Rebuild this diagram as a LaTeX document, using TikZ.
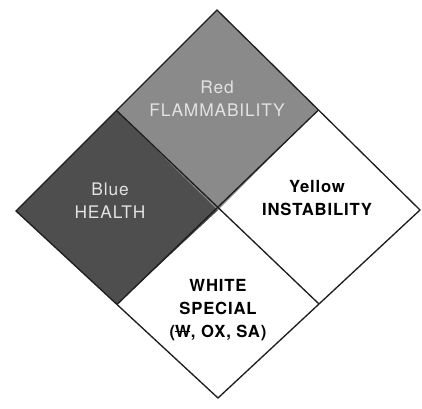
\documentclass[tikz,border=0pt]{standalone}
\usepackage{fontspec}
\setmainfont{TeX Gyre Heros}[LetterSpace=5]
\usetikzlibrary{calc}
\definecolor{redgray}{HTML}{8A8A8A}
\definecolor{bluegray}{HTML}{4E4E4E}
\definecolor{paletext}{HTML}{E2E2E2}
\definecolor{edgegray}{HTML}{1E1E1E}
\tikzset{
  quadrant/.style={draw=edgegray,line width=1pt,line join=miter},
  pale label/.style={align=center,text=paletext,font=\fontsize{13}{17.2}\selectfont},
  dark label/.style={align=center,text=black,font=\bfseries\fontsize{12.5}{17.2}\selectfont}
}
\newcommand{\strokeW}{\makebox[0pt][l]{\rule[0.33em]{0.9em}{0.08em}}W}

\begin{document}
\begin{tikzpicture}[x=0.75pt,y=-0.75pt]
  \useasboundingbox (0,0) rectangle (422,409);
  \coordinate (top) at (217,10);
  \coordinate (left) at (16,211);
  \coordinate (right) at (420,210);
  \coordinate (bottom) at (218,398);
  \coordinate (tl) at ($(top)!0.5!(left)$);
  \coordinate (tr) at ($(top)!0.5!(right)$);
  \coordinate (bl) at ($(bottom)!0.5!(left)$);
  \coordinate (br) at ($(bottom)!0.5!(right)$);
  \coordinate (c) at ($(left)!0.5!(right)$);
  \fill[redgray] (top)--(tr)--(c)--(tl)--cycle;
  \fill[bluegray] (tl)--(c)--(bl)--(left)--cycle;
  \fill[white] (tr)--(right)--(br)--(c)--cycle;
  \fill[white] (c)--(br)--(bottom)--(bl)--cycle;
  \draw[quadrant] (top)--(right)--(bottom)--(left)--cycle;
  \draw[quadrant] (tl)--(br);
  \draw[quadrant] (tr)--(bl);
  \node[pale label] (flam) at (217,99) {Red\\FLAMMABILITY};
  \node[pale label] (health) at (110,201) {Blue\\HEALTH};
  \node[dark label] (instab) at (317,198) {Yellow\\INSTABILITY};
  \node[dark label] (special) at (218,310) {WHITE\\SPECIAL\\(\strokeW, OX, SA)};
\end{tikzpicture}
\end{document}
